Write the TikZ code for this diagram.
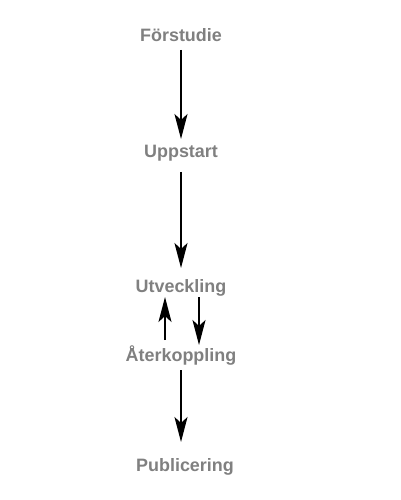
\documentclass[tikz,border=0pt]{standalone}
\usepackage{fontspec}
\setmainfont{Liberation Sans}
\usetikzlibrary{arrows.meta}
\definecolor{lbl}{RGB}{128,128,128}
\begin{document}
\begin{tikzpicture}[x=1bp,y=-1bp,
  lab/.style={text=lbl,font=\fontsize{18}{20}\selectfont\bfseries,inner sep=0pt},
  arr/.style={line width=2.2bp,-{Stealth[length=25bp,width=13bp,inset=6bp]}}]
\useasboundingbox (0,0) rectangle (400,500);
\node[lab] (f) at (181,35.5) {Förstudie};
\node[lab] (u) at (181,153.5) {Uppstart};
\node[lab] (v) at (181,287.5) {Utveckling};
\node[lab] (a) at (181,355.5) {Återkoppling};
\node[lab] (p) at (185,466.5) {Publicering};
\coordinate (f1) at (181,50);
\coordinate (u0) at (181,139);
\coordinate (u1) at (181,172);
\coordinate (v0) at (181,268);
\coordinate (vu) at (165,297);
\coordinate (au) at (165,340);
\coordinate (vd) at (199,297);
\coordinate (ad) at (199,345);
\coordinate (a1) at (181,370);
\coordinate (p0) at (181,442);
\draw[arr] (f1) -- (u0);
\draw[arr] (u1) -- (v0);
\draw[arr] (au) -- (vu);
\draw[arr] (vd) -- (ad);
\draw[arr] (a1) -- (p0);
\end{tikzpicture}
\end{document}
